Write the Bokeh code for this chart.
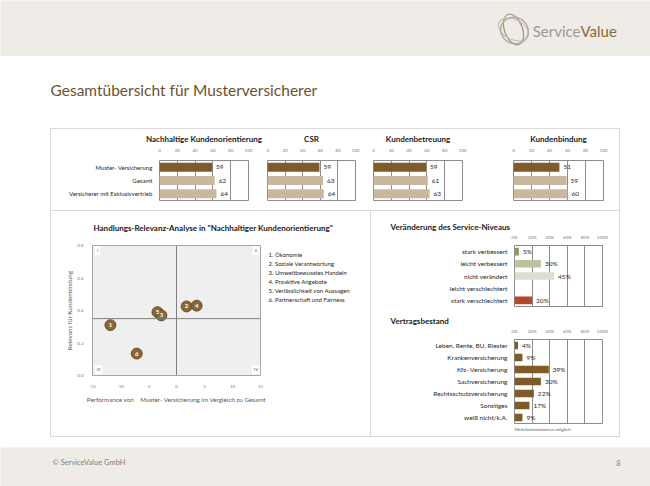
from bokeh.plotting import figure
from bokeh.layouts import row, column
from bokeh.models import (Range1d, FactorRange, Title, Label, Div, Spacer, Span,
                          ColumnDataSource, FixedTicker, PrintfTickFormatter)
from bokeh.embed import file_html
from bokeh.resources import INLINE
from bokeh.core.properties import value

# ---------------- data ----------------
page_title = "Gesamtübersicht für Musterversicherer"
footer_text = "© ServiceValue GmbH"
page_number = "8"

kpi_titles = ["Nachhaltige Kundenorientierung", "CSR", "Kundenbetreuung", "Kundenbindung"]
groups = ["Muster- Versicherung", "Gesamt", "Versicherer mit Exklusivvertrieb"]
kpi_nachhaltig = [59, 62, 64]
kpi_csr = [59, 63, 64]
kpi_betreuung = [59, 61, 63]
kpi_bindung = [51, 59, 60]
kpi_ticks = [0, 20, 40, 60, 80, 100]

scatter_title = 'Handlungs-Relevanz-Analyse in "Nachhaltiger Kundenorientierung"'
item_ids = ["1", "2", "3", "4", "5", "6"]
item_names = ["1. Ökonomie", "2. Soziale Verantwortung", "3. Umweltbewusstes Handeln",
              "4. Proaktive Angebote", "5. Verlässlichkeit von Aussagen",
              "6. Partnerschaft und Fairness"]
performance = [-11.8, 1.8, -2.7, 3.6, -3.4, -7.1]
relevanz = [0.31, 0.425, 0.37, 0.43, 0.39, 0.135]
relevanz_threshold = 0.35
perf_ticks = [-15, -10, -5, 0, 5, 10, 15]
rel_ticks = [0.0, 0.2, 0.4, 0.6, 0.8]
quadrants = ["I", "II", "III", "IV"]
x_label = "Performance von\u00a0\u00a0\u00a0\u00a0Muster- Versicherung im Vergleich zu Gesamt"
y_label = "Relevanz für Kundenbindung"

service_title = "Veränderung des Service-Niveaus"
service_levels = ["stark verbessert", "leicht verbessert", "nicht verändert",
                  "leicht verschlechtert", "stark verschlechtert"]
service_pct = [5, 30, 45, 0, 20]

vertrag_title = "Vertragsbestand"
vertrag_cats = ["Leben, Rente, BU, Riester", "Krankenversicherung", "Kfz- Versicherung",
                "Sachversicherung", "Rechtsschutzversicherung", "Sonstiges", "weiß nicht/k.A."]
vertrag_pct = [4, 9, 39, 30, 22, 17, 9]
vertrag_note = "Mehrfachantworten möglich"

# ---------------- styles ----------------
FONT = "Lato"
BEIGE = "#efebe6"
BORDER = "#d9d9d9"
GRIDC = "#8c8c8c"
BROWN = "#7f5b2a"
TAN = "#c9b89e"
TXT = "#262626"
kpi_colors = [BROWN, TAN, TAN]
service_colors = ["#8d9a5c", "#bcc39c", "#dcddd4", "#dcddd4", "#b3472a"]


def base_fig(width, height, **kw):
    return figure(width=width, height=height, output_backend="svg",
                  toolbar_location=None, margin=0, **kw)


def pixel_fig(width, height, bg):
    p = base_fig(width, height, x_range=Range1d(0, width), y_range=Range1d(height, 0),
                 min_border=0, x_axis_location=None, y_axis_location=None)
    p.grid.grid_line_color = None
    p.outline_line_color = None
    p.background_fill_color = bg
    p.border_fill_color = bg
    return p


def style_xaxis(ax, ticks, fmt, standoff=3):
    ax.ticker = FixedTicker(ticks=ticks)
    ax.formatter = fmt
    ax.axis_line_color = None
    ax.major_tick_line_color = None
    ax.minor_tick_line_color = None
    ax.major_label_text_font = FONT
    ax.major_label_text_font_size = "4.5px"
    ax.major_label_text_color = "#808080"
    ax.major_label_standoff = standoff


def bar_panel(width, height, bl, br, bt, bb, cats, vals, colors, title, show_cats,
              bar_h, pct, cat_font="6px", tick_standoff=3, title_align="center",
              title_offset=0, title_standoff=3):
    p = base_fig(width, height, x_range=Range1d(0, 100), y_range=FactorRange(factors=cats[::-1]),
                 x_axis_location="above", y_axis_location="left" if show_cats else None,
                 min_border_left=bl, min_border_right=br, min_border_top=bt, min_border_bottom=bb)
    p.border_fill_color = "white"
    p.outline_line_color = GRIDC
    p.xgrid.ticker = FixedTicker(ticks=kpi_ticks[1:-1])
    p.xgrid.grid_line_color = GRIDC
    p.ygrid.grid_line_color = None
    style_xaxis(p.xaxis[0], kpi_ticks,
                PrintfTickFormatter(format="%d%%" if pct else "%d"), tick_standoff)
    if show_cats:
        ay = p.yaxis[0]
        ay.axis_line_color = None
        ay.major_tick_line_color = None
        ay.major_label_text_font = FONT
        ay.major_label_text_font_size = cat_font
        ay.major_label_text_color = TXT
        ay.major_label_standoff = 1
    src = ColumnDataSource(dict(y=cats, v=vals, c=colors,
                                t=[(f"{v}%" if pct else str(v)) if v else "" for v in vals]))
    p.hbar(y="y", right="v", height=bar_h, fill_color="c", line_color=None, source=src)
    p.text(x="v", y="y", text="t", source=src, x_offset=4, text_baseline="middle",
           text_align="left", text_font_size="6.5px", text_font=value(FONT), text_color=TXT)
    p.title.text = title
    p.title.text_font = FONT
    p.title.text_font_size = "8px"
    p.title.text_font_style = "bold"
    p.title.text_color = "#1a1a1a"
    p.title.align = title_align
    p.title.offset = title_offset
    p.title.standoff = title_standoff
    return p


# ---------------- header / title / footer ----------------
header = pixel_fig(650, 56, BEIGE)
header.ellipse(x=[513, 513, 514], y=[29, 29, 30], width=[18, 32, 26], height=[32, 20, 28],
               angle=[0.35, -0.45, 1.1], fill_color=None,
               line_color=["#a89676", "#c2c2c2", "#b9a98e"], line_width=1.3)
header.text(x=[580], y=[30], text=["Service"], text_align="right", text_baseline="middle",
            text_font=value(FONT), text_font_size="15px", text_color="#9a9a9a")
header.text(x=[580], y=[30], text=["Value"], text_align="left", text_baseline="middle",
            text_font=value(FONT), text_font_size="15px", text_color="#8a6a3a")

titlefig = pixel_fig(650, 72, "white")
titlefig.text(x=[50], y=[33], text=[page_title], text_align="left", text_baseline="middle",
              text_font=value(FONT), text_font_size="15.5px", text_color="#6b5232")

footer = pixel_fig(650, 39, BEIGE)
footer.text(x=[52], y=[15], text=[footer_text], text_align="left", text_baseline="middle",
            text_font=value(FONT), text_font_size="7.5px", text_color="#7f7f7f")
footer.text(x=[620], y=[15], text=[page_number], text_align="right", text_baseline="middle",
            text_font=value(FONT), text_font_size="7.5px", text_color="#7f7f7f")

# ---------------- KPI bar row ----------------
k1 = bar_panel(215, 81, 108, 18, 31, 10, groups, kpi_nachhaltig, kpi_colors, kpi_titles[0], True, 0.68, False)
k2 = bar_panel(99, 81, 1, 10, 31, 10, groups, kpi_csr, kpi_colors, kpi_titles[1], False, 0.68, False)
k3 = bar_panel(125, 81, 8, 28, 31, 10, groups, kpi_betreuung, kpi_colors, kpi_titles[2], False, 0.68, False)
k4 = bar_panel(129, 81, 23, 16, 31, 10, groups, kpi_bindung, kpi_colors, kpi_titles[3], False, 0.68, False)

# ---------------- scatter ----------------
stitle = pixel_fig(319, 24, "white")
stitle.text(x=[42], y=[16], text=[scatter_title], text_align="left", text_baseline="middle",
            text_font=value(FONT), text_font_size="8px", text_font_style="bold",
            text_color="#1a1a1a")

sp = base_fig(216, 201, x_range=Range1d(-15, 15), y_range=Range1d(0, 0.8),
              min_border_left=41, min_border_right=7, min_border_top=10, min_border_bottom=61)
sp.background_fill_color = "#efefef"
sp.border_fill_color = "white"
sp.grid.grid_line_color = None
sp.outline_line_color = "#a6a6a6"
for ax, ticks, fmt in ((sp.xaxis[0], perf_ticks, PrintfTickFormatter(format="%d")),
                       (sp.yaxis[0], rel_ticks, PrintfTickFormatter(format="%.1f"))):
    style_xaxis(ax, ticks, fmt, 3)
    ax.axis_label_text_font = FONT
    ax.axis_label_text_font_size = "6.3px"
    ax.axis_label_text_font_style = "normal"
    ax.axis_label_text_color = "#595959"
sp.xaxis.axis_label = x_label
sp.yaxis.axis_label = y_label
sp.xaxis.axis_label_standoff = 5
sp.yaxis.axis_label_standoff = 1
sp.add_layout(Span(location=0, dimension="height", line_color="#7f7f7f", line_width=1))
sp.add_layout(Span(location=relevanz_threshold, dimension="width", line_color="#7f7f7f", line_width=1))
for q, qx, qy in zip(quadrants, [-14.1, 14.2, -13.9, 14.2], [0.77, 0.77, 0.035, 0.035]):
    sp.add_layout(Label(x=qx, y=qy, text=q, text_font=FONT, text_font_size="4.5px",
                        text_color="#595959", text_align="center", text_baseline="middle",
                        background_fill_color="white", padding=2))
ssrc = ColumnDataSource(dict(x=performance[::-1], y=relevanz[::-1], t=item_ids[::-1]))
sp.scatter("x", "y", source=ssrc, size=11, fill_color="#8a6833", line_color="#5a421f", line_width=0.8)
sp.text("x", "y", text="t", source=ssrc, text_align="center", text_baseline="middle",
        text_color="white", text_font_size="6px", text_font_style="bold", text_font=value(FONT))

# legend list to the right of the scatter
leg = pixel_fig(103, 201, "white")
leg.text(x=[1] * len(item_names), y=[14 + 13.8 * i for i in range(len(item_names))],
         text=item_names, text_align="left", text_baseline="middle",
         text_font=value(FONT), text_font_size="6px", text_color=TXT)

# ---------------- right charts ----------------
sv = bar_panel(248, 102, 143, 17, 34, 7, service_levels, service_pct, service_colors,
               service_title, True, 0.62, True, "6.5px", 0, "left", -124, 0)
vb = bar_panel(248, 123, 143, 17, 24, 13, vertrag_cats, vertrag_pct, [BROWN] * len(vertrag_cats),
               vertrag_title, True, 0.62, True, "6.5px", 0, "left", -124, 0)
vb.add_layout(Title(text=vertrag_note, text_font=FONT, text_font_size="4.5px",
                    text_font_style="normal", text_color="#595959", align="left",
                    offset=0, standoff=2), "below")


# ---------------- layout ----------------
def hline(w):
    return Div(width=w, height=1, margin=0, styles={"background-color": BORDER})


def vline(h):
    return Div(width=1, height=h, margin=0, styles={"background-color": BORDER})


scatter_panel = column(stitle, row(sp, leg, spacing=0, margin=0), spacing=0, margin=0)
top_row = row(k1, k2, k3, k4, spacing=0, margin=0)
right_col = column(sv, vb, spacing=0, margin=0)
bottom_row = row(scatter_panel, vline(225), right_col, spacing=0, margin=0)
inner = column(top_row, hline(568), bottom_row, spacing=0, margin=0)
box = column(hline(570), row(vline(307), inner, vline(307), spacing=0, margin=0), hline(570),
             spacing=0, margin=0)
dash = row(Spacer(width=50, height=309, margin=0), box, Spacer(width=30, height=309, margin=0),
           spacing=0, margin=0)
page = column(header, titlefig, dash, Spacer(width=650, height=10, margin=0), footer,
              spacing=0, margin=0)

open("out.html", "w").write(file_html(page, INLINE))
